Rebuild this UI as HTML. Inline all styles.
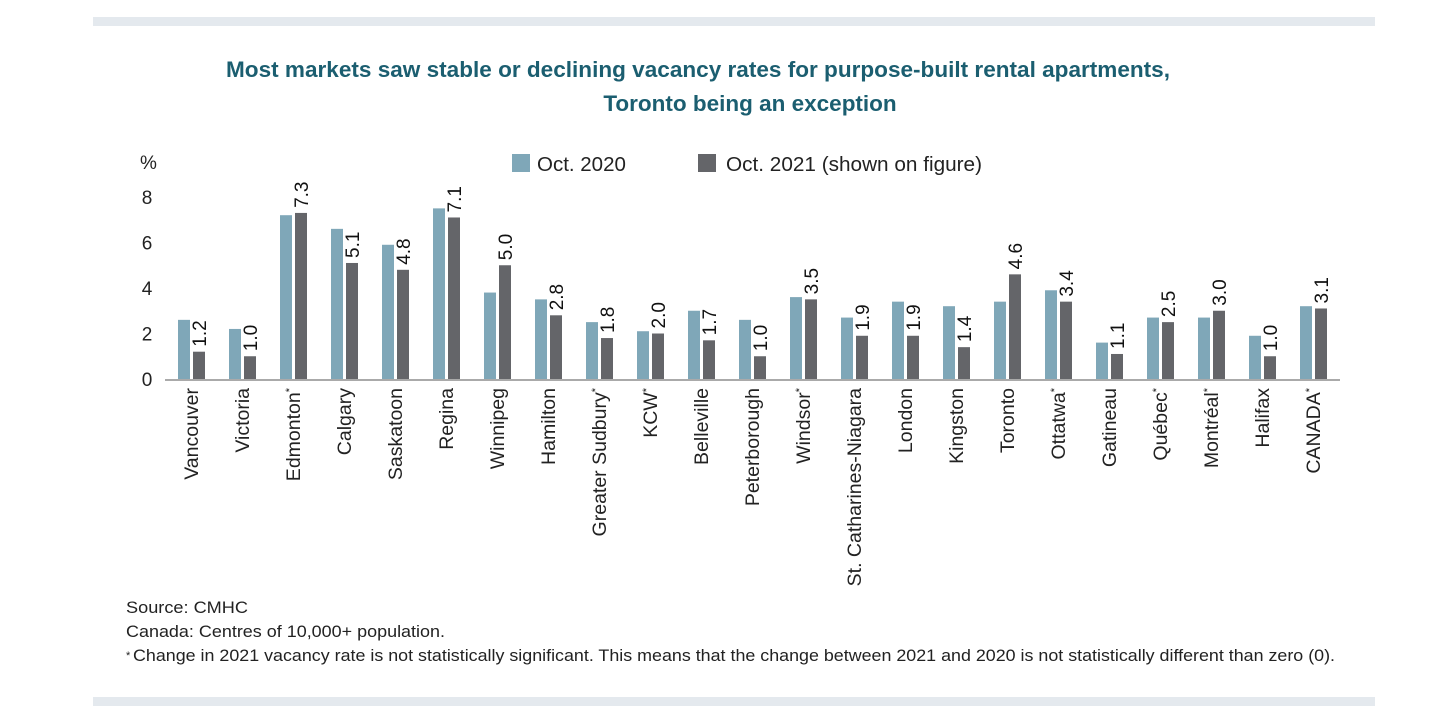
<!DOCTYPE html>
<html><head><meta charset="utf-8"><style>
body{margin:0;background:#fff;width:1439px;height:723px;overflow:hidden;font-family:"Liberation Sans",sans-serif}
.band{position:absolute;left:93px;width:1282px;height:9px;background:#e4e9ee}
</style></head><body>
<div class="band" style="top:17px"></div>
<div class="band" style="top:697px"></div>
<svg width="1439" height="723" style="position:absolute;left:0;top:0" id="chart">
<text x="698" y="77" text-anchor="middle" font-size="22.5" font-weight="bold" fill="#1b5e70" textLength="944" lengthAdjust="spacingAndGlyphs">Most markets saw stable or declining vacancy rates for purpose-built rental apartments,</text>
<text x="750" y="111" text-anchor="middle" font-size="22.5" font-weight="bold" fill="#1b5e70">Toronto being an exception</text>
<text x="140" y="169" font-size="19" fill="#222">%</text>
<rect x="512" y="154" width="18" height="18" fill="#7fa7b8"/>
<text x="537" y="171" font-size="20.5" fill="#222">Oct. 2020</text>
<rect x="698" y="154" width="18" height="18" fill="#646569"/>
<text x="726" y="171" font-size="20.5" fill="#222" textLength="256" lengthAdjust="spacingAndGlyphs">Oct. 2021 (shown on figure)</text>
<g id="plot"></g>
<text x="126" y="613" font-size="17" fill="#222" textLength="122" lengthAdjust="spacingAndGlyphs">Source: CMHC</text>
<text x="126" y="637" font-size="17" fill="#222" textLength="319" lengthAdjust="spacingAndGlyphs">Canada: Centres of 10,000+ population.</text>
<text x="126" y="659" font-size="11" fill="#222">*</text>
<text x="133" y="661" font-size="17" fill="#222" textLength="1202" lengthAdjust="spacingAndGlyphs">Change in 2021 vacancy rate is not statistically significant. This means that the change between 2021 and 2020 is not statistically different than zero (0).</text>
</svg>
<script>
const categories=["Vancouver","Victoria","Edmonton*","Calgary","Saskatoon","Regina","Winnipeg","Hamilton","Greater Sudbury*","KCW*","Belleville","Peterborough","Windsor*","St. Catharines-Niagara","London","Kingston","Toronto","Ottatwa*","Gatineau","Québec*","Montréal*","Halifax","CANADA*"];
const values2020=[2.6,2.2,7.2,6.6,5.9,7.5,3.8,3.5,2.5,2.1,3.0,2.6,3.6,2.7,3.4,3.2,3.4,3.9,1.6,2.7,2.7,1.9,3.2];
const values2021=[1.2,1.0,7.3,5.1,4.8,7.1,5.0,2.8,1.8,2.0,1.7,1.0,3.5,1.9,1.9,1.4,4.6,3.4,1.1,2.5,3.0,1.0,3.1];
const yTicks=[0,2,4,6,8];
const NS="http://www.w3.org/2000/svg";
const g=document.getElementById('plot');
const y=v=>379-v*22.75;
const xc=i=>191+i*51;
function mk(t,a){const e=document.createElementNS(NS,t);for(const k in a)e.setAttribute(k,a[k]);g.appendChild(e);return e;}
yTicks.forEach(t=>{const e=mk('text',{x:147,y:y(t)+7,'text-anchor':'middle','font-size':19,fill:'#222'});e.textContent=t;

});
categories.forEach((c,i)=>{
const cx=xc(i);
const b1=mk('rect',{x:cx-13,y:y(values2020[i]),width:12,height:values2020[i]*22.75,fill:'#7fa7b8'});


const b2=mk('rect',{x:cx+2,y:y(values2021[i]),width:12,height:values2021[i]*22.75,fill:'#646569'});


const ty=y(values2021[i])-5;
const v=mk('text',{x:0,y:0,transform:`translate(${cx+15},${ty}) rotate(-90)`,'font-size':19,fill:'#111'});
v.textContent=values2021[i].toFixed(1);


const star=c.endsWith('*');const name=star?c.slice(0,-1):c;
const l=mk('text',{x:0,y:0,transform:`translate(${cx+7},388) rotate(-90)`,'font-size':19.5,fill:'#222','text-anchor':'end'});
l.textContent=name;
if(star){const s=document.createElementNS(NS,'tspan');s.setAttribute('font-size','11');s.setAttribute('dy','-7');s.textContent='*';l.appendChild(s);}


});
const ax=mk('line',{x1:165,x2:1340,y1:380,y2:380,stroke:'#aaa','stroke-width':2});


</script>
</body></html>
